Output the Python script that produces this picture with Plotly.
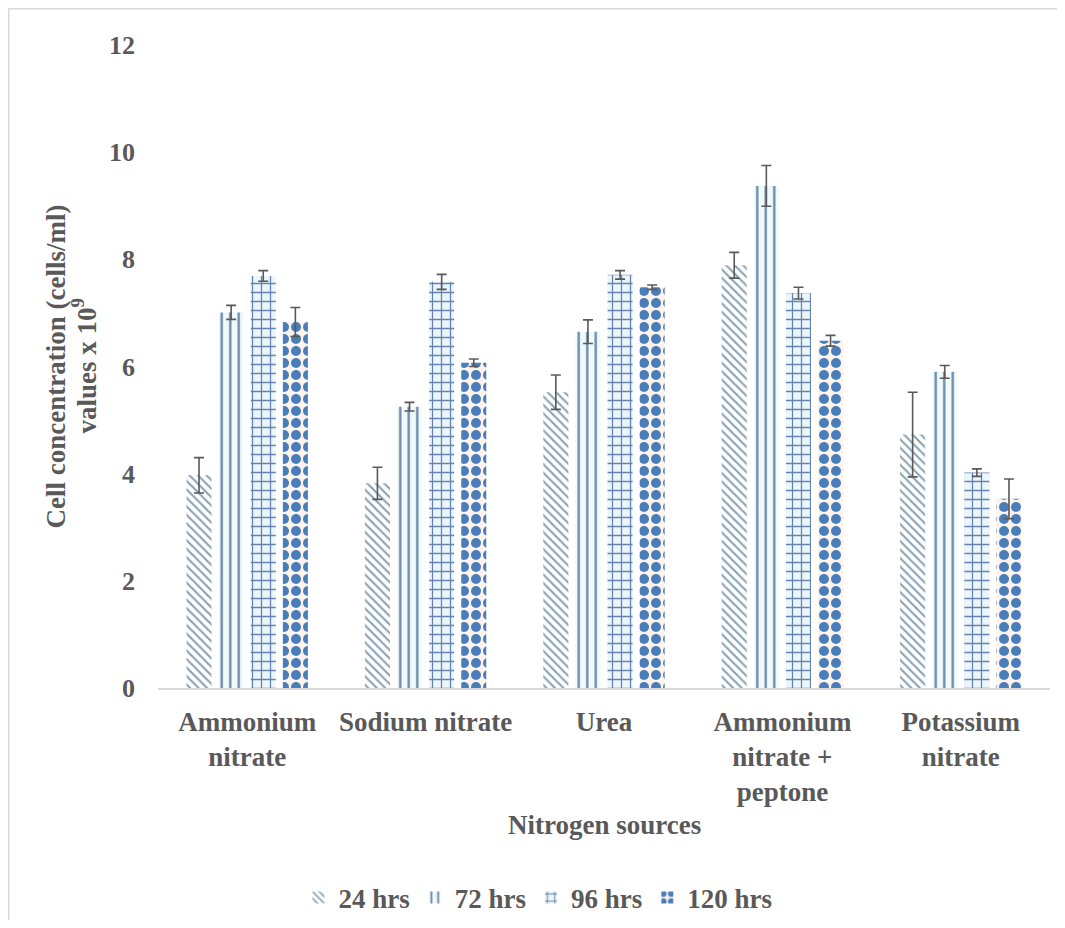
import plotly.graph_objects as go

categories = ["Ammonium<br>nitrate", "Sodium nitrate", "Urea",
              "Ammonium<br>nitrate +<br>peptone", "Potassium<br>nitrate"]
series_names = ["24 hrs", "72 hrs", "96 hrs", "120 hrs"]

h24 = [3.97, 3.82, 5.52, 7.89, 4.73]
e24 = [0.33, 0.30, 0.32, 0.24, 0.79]
h72 = [7.01, 5.25, 6.65, 9.37, 5.90]
e72 = [0.13, 0.08, 0.22, 0.38, 0.12]
h96 = [7.69, 7.58, 7.71, 7.37, 4.02]
e96 = [0.10, 0.14, 0.08, 0.11, 0.07]
h120 = [6.83, 6.07, 7.48, 6.48, 3.53]
e120 = [0.27, 0.07, 0.04, 0.10, 0.37]

y_ticks = [0, 2, 4, 6, 8, 10, 12]

FONT = "Liberation Serif, Times New Roman, serif"
TXT = "#595959"

styles = [
    dict(shape="\\", fg="#8aa2b4", bg="#ffffff", size=6, sol=0.36),
    dict(shape="|", fg="#6f8aa8", bg="#eefafc", size=8.5, sol=0.28),
    dict(shape="+", fg="#6683b0", bg="#eaf6fb", size=9, sol=0.26),
    dict(shape=".", fg="#4a7ebb", bg="#fdf3ea", size=12, sol=0.55),
]
values = [h24, h72, h96, h120]
errors = [e24, e72, e96, e120]

W, H = 1049, 912
ML, MR, MT, MB = 150, 7, 37, 232
PW = W - ML - MR
PH = H - MT - MB

fig = go.Figure()
for name, v, e, s in zip(series_names, values, errors, styles):
    fig.add_trace(go.Bar(
        name="<b>" + name + "</b>", x=categories, y=v,
        marker=dict(
            color=s["fg"],
            line=dict(width=0),
            pattern=dict(shape=s["shape"], fgcolor=s["fg"], bgcolor=s["bg"],
                         size=s["size"], solidity=s["sol"], fillmode="replace",
                         fgopacity=1),
        ),
        error_y=dict(type="data", array=e, visible=True, color="#595959",
                     thickness=1.6, width=5),
    ))

ticktext = ["<b>" + c.replace("<br>", "</b><br><b>") + "</b>" for c in categories]

fig.update_layout(
    width=W, height=H,
    paper_bgcolor="white", plot_bgcolor="white",
    margin=dict(l=ML, r=MR, t=MT, b=MB, autoexpand=False),
    barmode="group", bargap=0.28, bargroupgap=0.22,
    font=dict(family=FONT, size=27, color=TXT),
    showlegend=True,
    legend=dict(orientation="h", xref="paper", x=(538 - 8 - ML) / PW, xanchor="center",
                yref="container", y=(H - (898 - 8)) / H, yanchor="middle",
                bgcolor="rgba(0,0,0,0)",
                font=dict(family=FONT, size=27, color=TXT),
                itemwidth=30, traceorder="normal"),
    xaxis=dict(showline=True, linecolor="#d9d9d9", linewidth=1.5, showgrid=False,
               ticks="", tickvals=categories, ticktext=ticktext,
               tickfont=dict(family=FONT, size=27, color=TXT),
               ticklabelstandoff=9),
    yaxis=dict(range=[0, 12], tickvals=y_ticks,
               ticktext=["<b>%d</b>" % t for t in y_ticks],
               showgrid=False, zeroline=False,
               showline=False, ticks="", ticklabelstandoff=22,
               tickfont=dict(family=FONT, size=26, color=TXT)),
    shapes=[dict(type="rect", xref="paper", yref="paper",
                 x0=(-ML + 0.75) / PW, x1=(PW + MR + 20) / PW,
                 y0=(-MB - 20) / PH, y1=(PH + MT - 0.75) / PH,
                 line=dict(color="#d9d9d9", width=1.5), fillcolor="rgba(0,0,0,0)",
                 layer="below")],
    annotations=[
        dict(text="<b>Nitrogen sources</b>", xref="paper", yref="paper",
             x=0.5, y=(688 - 825) / PH, xanchor="center", yanchor="middle",
             showarrow=False, font=dict(family=FONT, size=27, color=TXT)),
        dict(text="<b>Cell concentration (cells/ml)</b>", xref="paper", yref="paper",
             x=(55 - 8 - ML) / PW, y=0.5, xanchor="center", yanchor="middle",
             textangle=-90, showarrow=False,
             font=dict(family=FONT, size=27, color=TXT)),
        dict(text="<b>values x 10<sup>9</sup></b>", xref="paper", yref="paper",
             x=(84 - 8 - ML) / PW, y=0.5, xanchor="center", yanchor="middle",
             textangle=-90, showarrow=False,
             font=dict(family=FONT, size=27, color=TXT)),
    ],
)

fig.write_html("out.html")
